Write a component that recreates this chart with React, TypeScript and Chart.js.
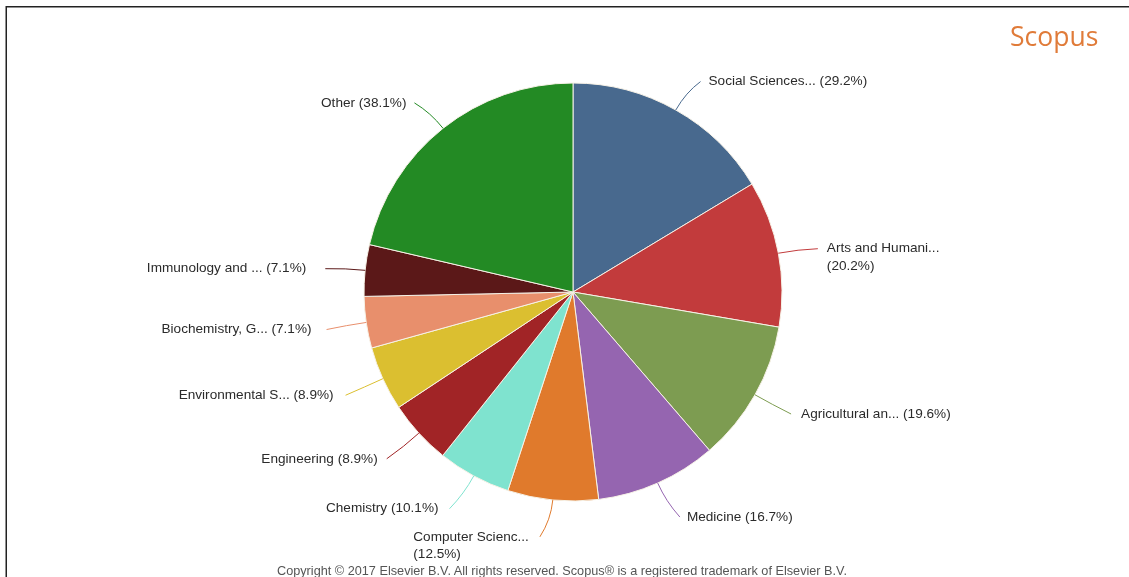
import React, { useEffect, useRef } from 'react';
import { Chart, registerables } from 'chart.js';

Chart.register(...registerables);

const categories = [
  'Social Sciences...',
  'Arts and Humani...',
  'Agricultural an...',
  'Medicine',
  'Computer Scienc...',
  'Chemistry',
  'Engineering',
  'Environmental S...',
  'Biochemistry, G...',
  'Immunology and ...',
  'Other',
];
const shares = [29.2, 20.2, 19.6, 16.7, 12.5, 10.1, 8.9, 8.9, 7.1, 7.1, 38.1];
const sliceColors = [
  '#48698e',
  '#c23b3c',
  '#7d9c51',
  '#9565b0',
  '#e07a2c',
  '#7fe3cf',
  '#a12426',
  '#dbbf30',
  '#e88f6c',
  '#5b1818',
  '#238a24',
];
const wrapLabel = [false, true, false, false, true, false, false, false, false, false, false];
// horizontal text nudges (styling only)
const labelNudge = [0, 1, 2, -1, -3, -3, -1, -4, -7, -11, 0];

const W = 1129;
const H = 577;

const labelPlugin = {
  id: 'pieLabels',
  afterDraw(chart: any) {
    const ctx = chart.ctx as CanvasRenderingContext2D;
    const meta = chart.getDatasetMeta(0);
    ctx.save();
    // frame lines
    ctx.strokeStyle = '#222';
    ctx.lineWidth = 1.5;
    ctx.beginPath();
    ctx.moveTo(6.25, H);
    ctx.lineTo(6.25, 6.75);
    ctx.lineTo(W, 6.75);
    ctx.stroke();

    ctx.font = '13.6px "Liberation Sans", Arial, sans-serif';
    ctx.textBaseline = 'middle';
    meta.data.forEach((arc: any, i: number) => {
      const { x, y, startAngle, endAngle, outerRadius } = arc.getProps(
        ['x', 'y', 'startAngle', 'endAngle', 'outerRadius'],
        true
      );
      const mid = (startAngle + endAngle) / 2;
      const c = Math.cos(mid);
      const s = Math.sin(mid);
      const right = c >= 0;
      const sx = x + outerRadius * c;
      const sy = y + outerRadius * s;
      const ax = x + (outerRadius + 30) * c;
      const ay = y + (outerRadius + 35) * s + 2;
      const qx = x + (outerRadius + 20) * c;
      const qy = y + (outerRadius + 20) * s;
      const ex = ax + (right ? 10 : -10);

      ctx.strokeStyle = sliceColors[i];
      ctx.lineWidth = 1;
      ctx.beginPath();
      ctx.moveTo(sx, sy);
      ctx.quadraticCurveTo(qx, qy, ex, ay);
      ctx.stroke();

      const pct = '(' + shares[i].toFixed(1) + '%)';
      const lines = wrapLabel[i] ? [categories[i], pct] : [categories[i] + ' ' + pct];
      const blockW = Math.max(...lines.map((l) => ctx.measureText(l).width));
      const tx = (right ? ax + 18 : ax - 18 - blockW) + labelNudge[i];
      ctx.fillStyle = '#2b2b2b';
      ctx.textAlign = 'left';
      lines.forEach((l, k) => {
        ctx.fillText(l, tx, ay + k * 17.5);
      });
    });
    ctx.restore();
  },
};

export default function App() {
  const ref = useRef<HTMLCanvasElement | null>(null);

  useEffect(() => {
    if (!ref.current) return;
    const chart = new Chart(ref.current, {
      type: 'pie',
      data: {
        labels: categories,
        datasets: [
          {
            data: shares,
            backgroundColor: sliceColors,
            borderColor: '#f6f1e6',
            borderWidth: 1,
          },
        ],
      },
      options: {
        responsive: false,
        animation: false,
        radius: 209,
        layout: { padding: { left: 364, right: 347, top: 83, bottom: 76 } },
        plugins: {
          legend: { display: false },
          tooltip: { enabled: false },
        },
      } as any,
      plugins: [labelPlugin],
    });
    return () => chart.destroy();
  }, []);

  return (
    <div
      style={{
        position: 'fixed',
        left: 0,
        top: 0,
        width: W,
        height: H,
        background: '#fff',
        overflow: 'hidden',
      }}
    >
      <canvas ref={ref} width={W} height={H} style={{ display: 'block' }} />
      <div
        style={{
          position: 'absolute',
          left: 1010,
          top: 23,
          fontFamily: '"Open Sans", sans-serif',
          fontSize: 26.5,
          lineHeight: '26.5px',
          color: '#e07b39',
          whiteSpace: 'nowrap',
        }}
      >
        Scopus
      </div>
      <div
        style={{
          position: 'absolute',
          left: 277,
          top: 564,
          fontFamily: '"Liberation Sans", Arial, sans-serif',
          fontSize: 12.7,
          lineHeight: '14px',
          color: '#555',
          whiteSpace: 'nowrap',
        }}
      >
        Copyright © 2017 Elsevier B.V. All rights reserved. Scopus® is a registered trademark of Elsevier B.V.
      </div>
    </div>
  );
}
